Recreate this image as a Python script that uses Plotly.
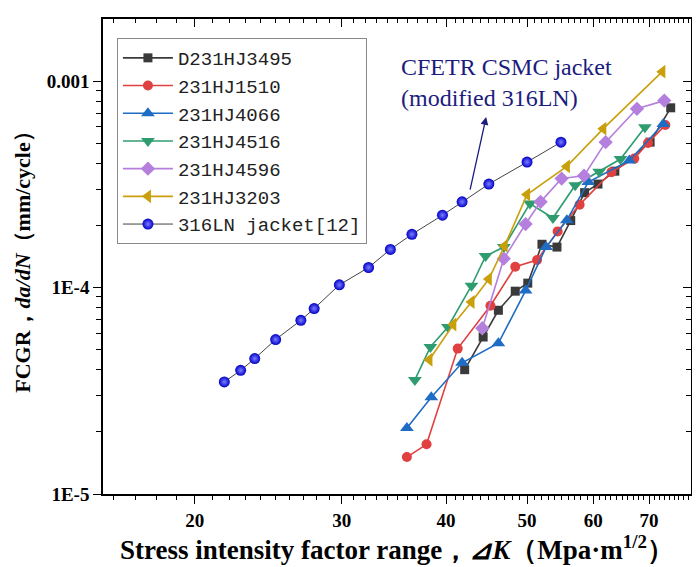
import plotly.graph_objects as go

# values (dK in MPa*m^0.5, da/dN in mm/cycle)
dk_3495 = [42.1, 44.3, 46.2, 48.4, 50.1, 52.1, 54.3, 56.4, 58.6, 60.8, 63.7, 70.2, 74.3]
fcgr_3495 = [4.00e-5, 5.76e-5, 7.76e-5, 9.60e-5, 1.05e-4, 1.62e-4, 1.57e-4, 2.11e-4, 2.88e-4,
             3.17e-4, 3.66e-4, 5.06e-4, 7.42e-4]

dk_1510 = [35.9, 37.9, 41.3, 45.2, 48.4, 51.4, 54.4, 57.8, 63.1, 67.2, 69.8, 73.2]
fcgr_1510 = [1.51e-5, 1.74e-5, 5.06e-5, 8.16e-5, 1.26e-4, 1.36e-4, 1.87e-4, 2.52e-4, 3.62e-4,
             4.21e-4, 5.01e-4, 6.12e-4]

dk_4066 = [35.9, 38.4, 41.8, 46.2, 49.8, 52.7, 55.8, 59.2, 66.3, 72.8]
fcgr_4066 = [2.09e-5, 2.94e-5, 4.32e-5, 5.37e-5, 9.67e-5, 1.57e-4, 2.12e-4, 3.24e-4, 4.12e-4, 6.19e-4]

dk_4516 = [36.7, 38.3, 40.2, 42.9, 44.6, 46.9, 50.4, 53.7, 57.1, 61.0, 64.7, 69.2]
fcgr_4516 = [3.57e-5, 5.15e-5, 6.44e-5, 1.02e-4, 1.42e-4, 1.57e-4, 2.55e-4, 2.17e-4, 3.13e-4,
             3.64e-4, 4.19e-4, 5.98e-4]

dk_4596 = [44.2, 46.9, 49.8, 51.9, 55.0, 58.5, 62.1, 67.7, 73.0]
fcgr_4596 = [6.35e-5, 1.38e-4, 2.03e-4, 2.60e-4, 3.37e-4, 3.48e-4, 5.06e-4, 7.34e-4, 8.04e-4]

dk_3203 = [38.2, 40.8, 42.9, 45.0, 47.0, 50.0, 55.8, 61.7, 72.6]
fcgr_3203 = [4.47e-5, 6.62e-5, 8.51e-5, 1.10e-4, 1.59e-4, 2.82e-4, 3.86e-4, 5.88e-4, 1.11e-3]

dk_316ln = [21.7, 22.7, 23.6, 25.0, 26.8, 27.8, 29.8, 32.3, 34.3, 36.4, 39.6, 41.8, 45.0, 50.0, 54.9]
fcgr_316ln = [3.49e-5, 3.97e-5, 4.53e-5, 5.60e-5, 6.94e-5, 7.91e-5, 1.03e-4, 1.25e-4, 1.53e-4,
              1.81e-4, 2.24e-4, 2.60e-4, 3.17e-4, 4.05e-4, 5.06e-4]

x_ticks = [20, 30, 40, 50, 60, 70]
x_minor = [v for v in range(16, 79) if v not in x_ticks]
y_ticks = [1e-5, 1e-4, 1e-3]
y_ticktext = ['1E-5', '1E-4', '0.001']
y_minor = [m * 10.0 ** e for e in (-5, -4, -3) for m in range(2, 10) if m * 10.0 ** e < 2e-3]

x_range = [1.1912, 1.8953]
y_range = [-5.0, -2.6995]

series = [
    ('D231HJ3495', dk_3495, fcgr_3495, '#3a3a3a', 'square', 9),
    ('231HJ1510', dk_1510, fcgr_1510, '#e0403f', 'circle', 10),
    ('231HJ4066', dk_4066, fcgr_4066, '#1f6cc4', 'triangle-up', 12),
    ('231HJ4516', dk_4516, fcgr_4516, '#2f9c70', 'triangle-down', 12),
    ('231HJ4596', dk_4596, fcgr_4596, '#b47fdd', 'diamond', 11),
    ('231HJ3203', dk_3203, fcgr_3203, '#c9a00c', 'triangle-left', 12),
]

fig = go.Figure()

for name, x, y, color, symbol, size in series:
    fig.add_trace(go.Scatter(x=x, y=y, name=name, mode='lines+markers',
                             line=dict(color=color, width=1.6),
                             marker=dict(color=color, symbol=symbol, size=size)))

fig.add_trace(go.Scatter(x=dk_316ln, y=fcgr_316ln, name='316LN jacket[12]', mode='lines+markers',
                         line=dict(color='#444444', width=1),
                         marker=dict(color='#0000c8', symbol='circle', size=11,
                                     gradient=dict(type='radial', color='#7d7dff'))))

# empty trace so the mirrored top/right axes get drawn
fig.add_trace(go.Scatter(x=[None], y=[None], xaxis='x2', yaxis='y2', showlegend=False, hoverinfo='skip'))

tick_font = dict(family='Liberation Serif', size=19, color='black')

# page body has an 8px margin, so the figure is 8px smaller and margins shifted
fig.update_layout(
    width=692, height=559, autosize=False,
    margin=dict(l=95, r=7, t=11, b=73),
    plot_bgcolor='white', paper_bgcolor='white',
    xaxis=dict(type='log', range=x_range, showline=True, linecolor='black', linewidth=1.5, mirror=True,
               showgrid=False, zeroline=False, ticks='outside', ticklen=8, tickwidth=1.2, tickcolor='black',
               tickvals=x_ticks, ticktext=['<b>%d</b>' % v for v in x_ticks], tickfont=tick_font,
               minor=dict(tickvals=x_minor, ticks='outside', ticklen=4, tickwidth=1, tickcolor='black',
                          showgrid=False),
               title=dict(text='<b>Stress intensity factor range，<i>⊿K</i>（Mpa·m<sup>1/2</sup>）</b>',
                          font=dict(family='Liberation Serif', size=27, color='black'), standoff=6)),
    yaxis=dict(type='log', range=y_range, showline=True, linecolor='black', linewidth=1.5, mirror=True,
               showgrid=False, zeroline=False, ticks='outside', ticklen=8, tickwidth=1.2, tickcolor='black',
               tickvals=y_ticks, ticktext=['<b>%s</b>' % t for t in y_ticktext], tickfont=tick_font,
               minor=dict(tickvals=y_minor, ticks='outside', ticklen=5, tickwidth=1, tickcolor='black',
                          showgrid=False),
               title=dict(text='<b>FCGR，<i>da/dN</i>（mm/cycle）</b>',
                          font=dict(family='Liberation Serif', size=22, color='black'), standoff=10)),
    xaxis2=dict(type='log', range=x_range, overlaying='x', side='top', showgrid=False, zeroline=False,
                ticks='inside', ticklen=8, tickwidth=1.2, tickcolor='black', tickvals=x_ticks,
                showticklabels=False,
                minor=dict(tickvals=x_minor, ticks='inside', ticklen=4, tickwidth=1, tickcolor='black')),
    yaxis2=dict(type='log', range=y_range, overlaying='y', side='right', showgrid=False, zeroline=False,
                ticks='inside', ticklen=8, tickwidth=1.2, tickcolor='black', tickvals=y_ticks,
                showticklabels=False,
                minor=dict(tickvals=y_minor, ticks='inside', ticklen=5, tickwidth=1, tickcolor='black')),
    legend=dict(x=0.0237, y=0.96, xanchor='left', yanchor='top', bgcolor='white',
                bordercolor='#8a8a8a', borderwidth=1,
                font=dict(family='Liberation Mono', size=19, color='#222222'),
                itemwidth=50, tracegroupgap=0),
    showlegend=True,
)

fig.add_annotation(xref='paper', yref='paper', x=0.503, y=0.93, xanchor='left', yanchor='top',
                   text='CFETR CSMC jacket<br>(modified 316LN)', align='left', showarrow=False,
                   font=dict(family='Liberation Serif', size=24, color='#1c1c7e'))
fig.add_annotation(x=1.650, y=-3.1745, ax=1.6304, ay=-3.533, xref='x', yref='y', axref='x', ayref='y',
                   text='', showarrow=True, arrowhead=2, arrowsize=1.2, arrowwidth=1.3, arrowcolor='#1c1c7e')

fig.write_html('out.html')
